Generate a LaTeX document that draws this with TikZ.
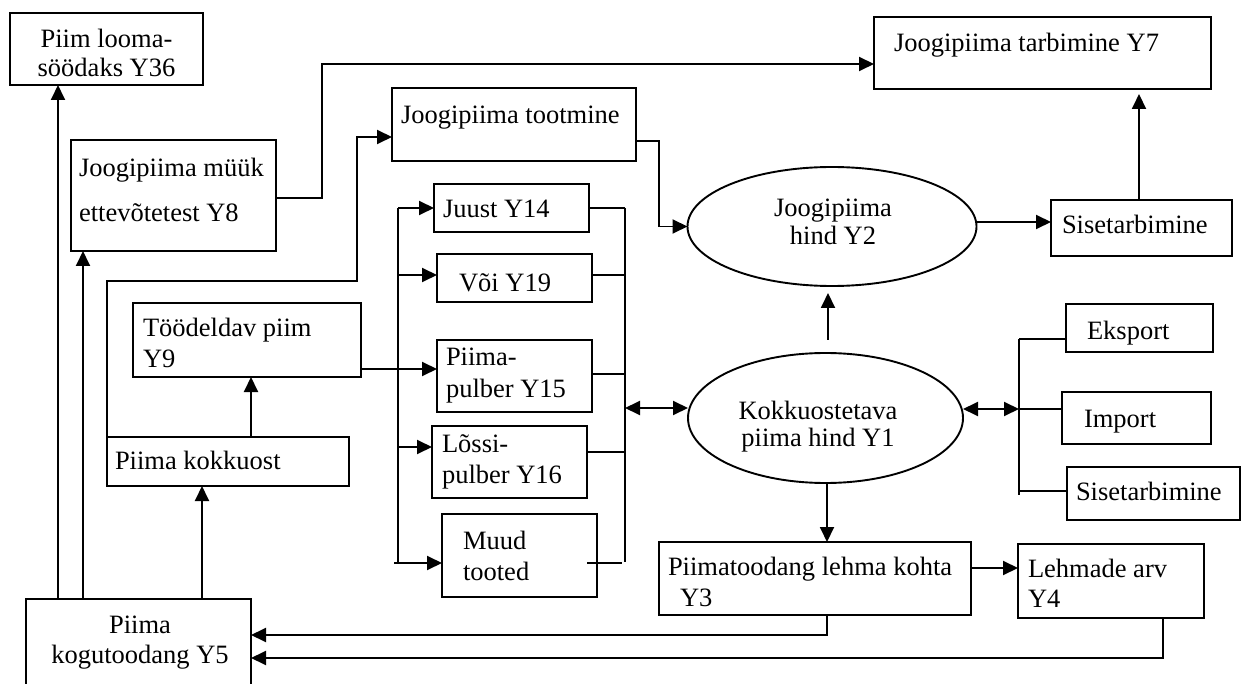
\documentclass[tikz,border=0pt]{standalone}
\usepackage{fontspec}
\setmainfont{Liberation Serif}
\usetikzlibrary{arrows.meta,shapes.geometric,calc}
\newcommand\mybox[5]{\node[box, minimum width=\fpeval{#4-#2}pt, minimum height=\fpeval{#5-#3}pt] (#1) at (#2,#3) {};}
\tikzset{
  box/.style={draw, line width=1.9pt, inner sep=0pt, outer sep=0pt, anchor=north west},
  ell/.style={draw, ellipse, line width=1.9pt, inner sep=0pt, outer sep=0pt},
  txt/.style={inner sep=0pt, outer sep=0pt, anchor=base west, font=\fontsize{26.5}{30}\selectfont},
  ctxt/.style={txt, anchor=base},
  ln/.style={line width=1.9pt},
  arr/.style={ln, -{Triangle[length=15pt,width=14pt]}},
  darr/.style={ln, {Triangle[length=15pt,width=14pt]}-{Triangle[length=15pt,width=14pt]}}
}
\begin{document}
\begin{tikzpicture}[x=1pt,y=-1pt]
\useasboundingbox (0,0) rectangle (1247,684);
\clip (0,0) rectangle (1247,684);
\fill[white] (0,0) rectangle (1247,684);
% boxes
\mybox{Y36}{10}{13}{203}{85}
\mybox{Y8}{71}{140}{276}{251}
\mybox{toot}{392}{88}{636}{161}
\mybox{Y7}{874}{17}{1211}{89}
\mybox{juust}{434}{184}{589}{232}
\mybox{voi}{437}{254}{592}{302}
\mybox{p15}{437}{340}{592}{412}
\mybox{l16}{432}{426}{587}{498}
\mybox{muud}{442}{514}{597}{597}
\mybox{Y9}{133}{303}{361}{377}
\mybox{kok}{107}{437}{349}{486}
\mybox{Y5}{26}{599}{251}{700}
\mybox{Y3}{659}{542}{971}{615}
\mybox{Y4}{1018}{544}{1204}{618}
\mybox{sisA}{1051}{200}{1232}{256}
\mybox{eks}{1066}{304}{1213}{352}
\mybox{imp}{1062}{392}{1211}{444}
\mybox{sisB}{1067}{467}{1240}{520}
\node[ell, minimum width=289pt, minimum height=119pt] (Y2) at (832,226.5) {};
\node[ell, minimum width=275pt, minimum height=130pt] (Y1) at (825.5,418) {};
% texts
\node[ctxt] (t36a) at (106.5,47.7) {Piim looma-};
\node[ctxt] (t36b) at (106.5,76.7) {söödaks Y36};
\node[txt] (t8a) at (79,177) {Joogipiima müük};
\node[txt] (t8b) at (79,222) {ettevõtetest Y8};
\node[txt] (ttoot) at (401,124) {Joogipiima tootmine};
\node[txt] (t7) at (894,52) {Joogipiima tarbimine Y7};
\node[txt] (t14) at (443,218) {Juust Y14};
\node[txt] (t19) at (459,292) {Või Y19};
\node[txt] (t15a) at (446,366) {Piima-};
\node[txt] (t15b) at (446,397) {pulber Y15};
\node[txt] (t16a) at (442,452) {Lõssi-};
\node[txt] (t16b) at (442,483) {pulber Y16};
\node[txt] (tmua) at (463,549) {Muud};
\node[txt] (tmub) at (463,580) {tooted};
\node[txt] (t9a) at (143,337) {Töödeldav piim};
\node[txt] (t9b) at (143,367) {Y9};
\node[txt] (tkok) at (115,469) {Piima kokkuost};
\node[ctxt] (t5a) at (140,633) {Piima};
\node[ctxt] (t5b) at (140,663) {kogutoodang Y5};
\node[ctxt] (t2a) at (833,217) {Joogipiima};
\node[ctxt] (t2b) at (833,245) {hind Y2};
\node[ctxt] (t1a) at (818,419) {Kokkuostetava};
\node[ctxt] (t1b) at (818,446) {piima hind Y1};
\node[txt] (teks) at (1087,340) {Eksport};
\node[txt] (timp) at (1084,427) {Import};
\node[txt] (tsisB) at (1076,500) {Sisetarbimine};
\node[txt] (tsisA) at (1062,234) {Sisetarbimine};
\node[txt] (t3a) at (668,575) {Piimatoodang lehma kohta};
\node[txt] (t3b) at (680,606) {Y3};
\node[txt] (t4a) at (1028,577) {Lehmade arv};
\node[txt] (t4b) at (1028,607) {Y4};
% connectors
\draw[arr] (58,0 |- Y5.north) -- (58,0 |- Y36.south);
\draw[arr] (83,0 |- Y5.north) -- (83,0 |- Y8.south);
\draw[arr] (202,0 |- Y5.north) -- (202,0 |- kok.south);
\draw[arr] (251,0 |- kok.north) -- (251,0 |- Y9.south);
\draw[arr] (kok.north west) |- (357,281) |- (toot.west |- 0,137);
\draw[arr] (Y8.east |- 0,198) -| (322,64) -- (Y7.west |- 0,64);
\draw[arr] (toot.east |- 0,141) -| (659,0 |- Y2.west) -- (Y2.west);
% to products
\draw[ln] (Y9.east |- 0,369) -- (398,369);
\draw[ln] (398,0 |- juust.west) -- (398,563);
\draw[arr] (398,0 |- juust.west) -- (juust.west);
\draw[arr] (398,275) -- (voi.west |- 0,275);
\draw[arr] (398,369) -- (p15.west |- 0,369);
\draw[arr] (398,447) -- (l16.west |- 0,447);
\draw[arr] (394,563) -- (muud.west |- 0,563);
% from products
\draw[ln] (juust.east) -- (625,0 |- juust.east);
\draw[ln] (voi.east |- 0,275) -- (625,275);
\draw[ln] (p15.east |- 0,374) -- (625,374);
\draw[ln] (l16.east |- 0,452) -- (625,452);
\draw[ln] (587,563) -- (622,563);
\draw[ln] (625,0 |- juust.east) -- (625,562);
\draw[darr] (625,408) -- (Y1.west |- 0,408);
% prices
\draw[arr] (Y2.east |- 0,222) -- (sisA.west |- 0,222);
\draw[arr] (1139,0 |- sisA.north) -- ($(1139,0 |- Y7.south)+(0,5)$);
\draw[arr] ($(828,0 |- Y1.north)+(0,-13)$) -- ($(828,0 |- Y2.south)+(0,7)$);
\draw[darr] (Y1.east |- 0,409) -- (1019,409);
\draw[ln] (1019,339) -- (1019,495);
\draw[ln] (1019,339) -- (eks.west |- 0,339);
\draw[ln] (1019,409) -- (imp.west |- 0,409);
\draw[ln] (1019,491) -- (sisB.west |- 0,491);
\draw[arr] (827,0 |- Y1.south) -- (827,0 |- Y3.north);
\draw[arr] (Y3.east |- 0,568) -- (Y4.west |- 0,568);
\draw[arr] (827,0 |- Y3.south) |- (Y5.east |- 0,635);
\draw[arr] (1163,0 |- Y4.south) |- (Y5.east |- 0,658);
\end{tikzpicture}
\end{document}
